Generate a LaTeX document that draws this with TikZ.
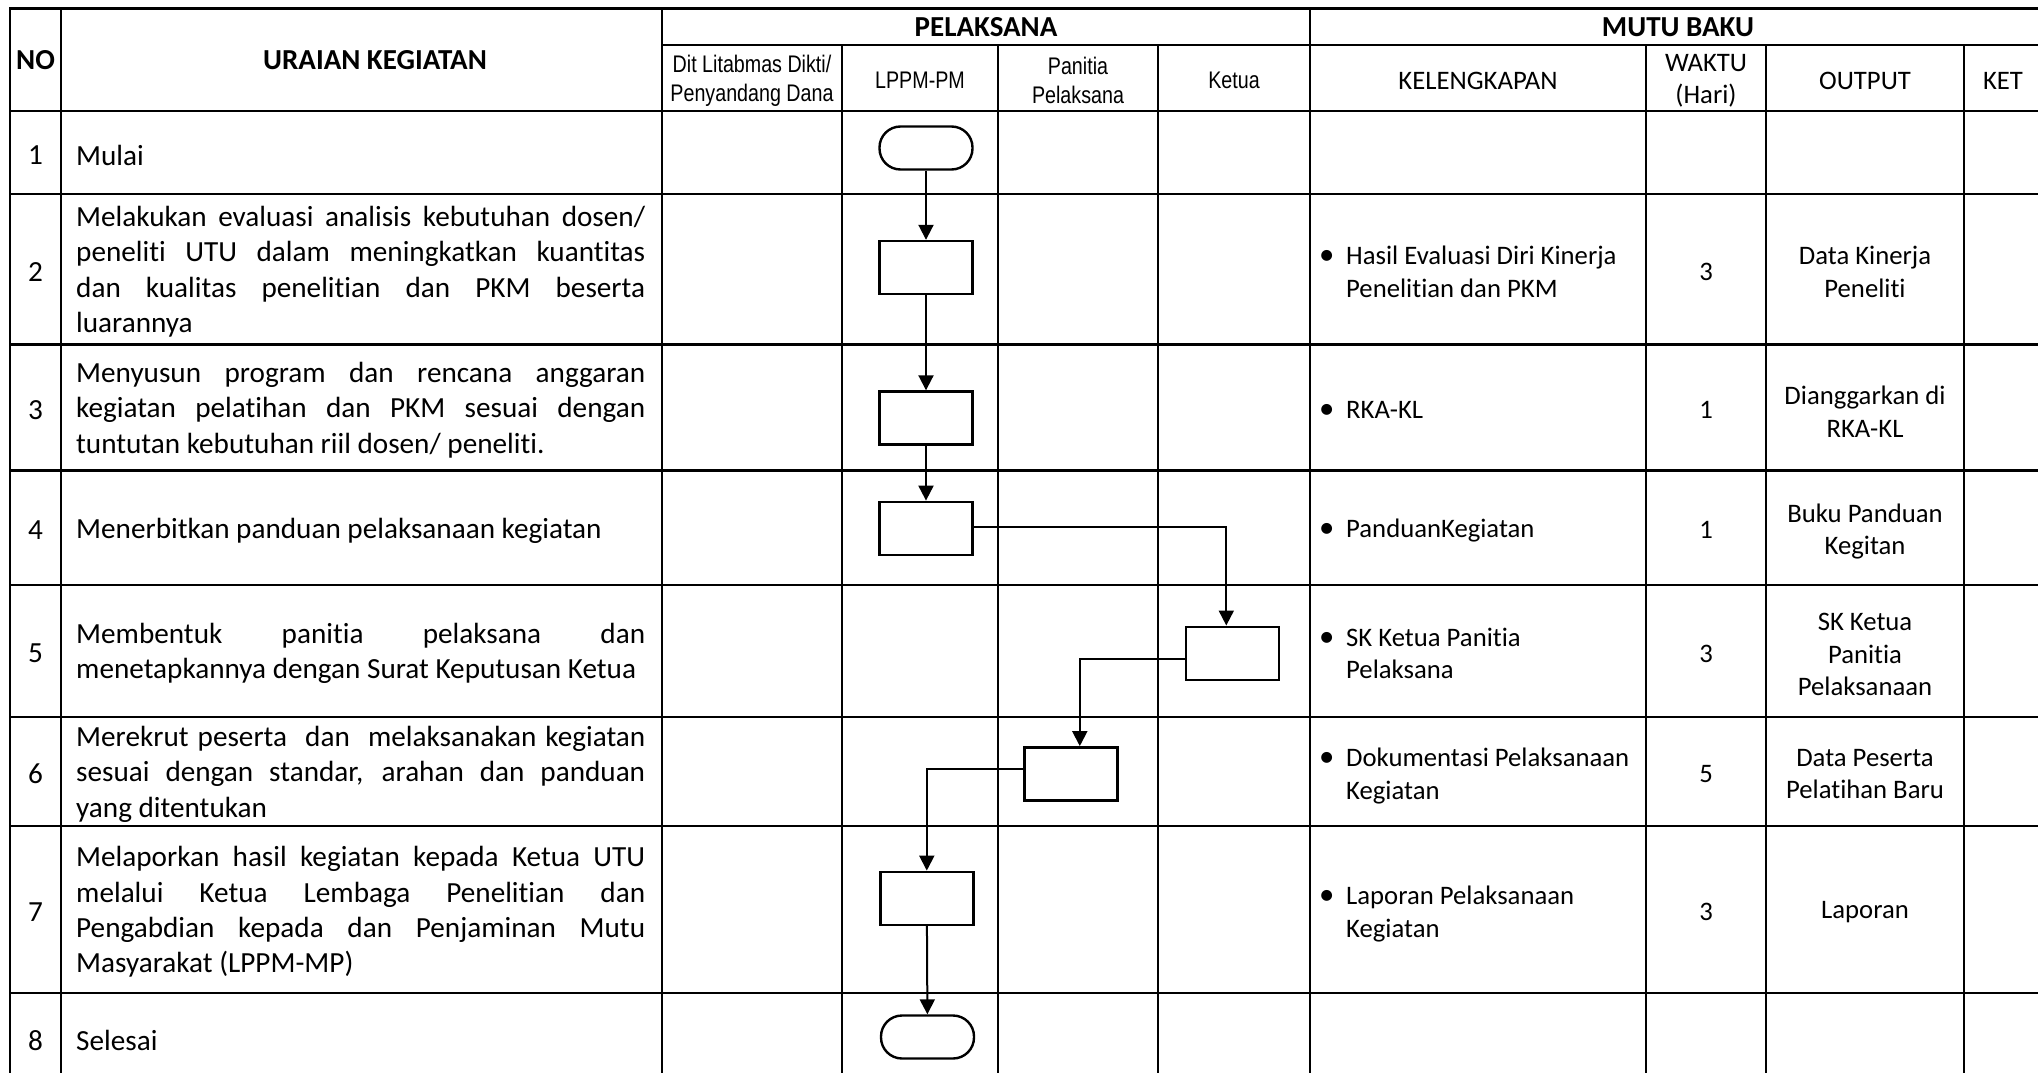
\documentclass[tikz,border=0pt]{standalone}
\usepackage{fontspec}
\setmainfont{Carlito}[Ligatures={NoCommon,NoContextual}]
\newfontfamily\narrowfont[FakeStretch=0.82]{Liberation Sans}
\usetikzlibrary{arrows.meta}
\newcommand{\jline}[1]{\makebox[569pt][s]{#1}}
\newcommand{\lline}[1]{\makebox[569pt][l]{#1}}
\newcommand{\blt}{\makebox[28pt][l]{\hspace{1pt}\scalebox{1.15}{•}}}
\begin{document}
\begin{tikzpicture}[x=1pt,y=-1pt,
  hdr/.style={font=\bfseries\fontsize{29}{35}\selectfont, inner sep=0},
  sub/.style={font=\narrowfont\fontsize{24}{28.5}\selectfont, align=center, inner sep=0, yshift=-2.6pt},
  cal/.style={font=\fontsize{26.7}{32.6}\selectfont, align=center, inner sep=0, yshift=-2.6pt},
  kel/.style={font=\fontsize{26.7}{32.6}\selectfont, anchor=west, inner sep=0, yshift=-2.6pt},
  kelt/.style={kel, yshift=-2.6pt},
  ura/.style={font=\fontsize{29.2}{35.4}\selectfont, anchor=west, inner sep=0, align=left, yshift=-2.6pt},
  num/.style={font=\fontsize{29.2}{35.4}\selectfont, inner sep=0, yshift=-2.6pt},
  fbox/.style={draw, line width=2.4pt, fill=white, minimum width=93pt, minimum height=53pt, inner sep=0},
  term/.style={fbox, rounded corners=21pt, minimum height=43pt},
  flow/.style={line width=2pt, -{Triangle[length=15pt,width=15pt]}},
  grid/.style={line width=2.4pt, line cap=rect}]
\clip (0,0) rectangle (2038,1073);
\fill[white] (0,0) rectangle (2038,1073);
% ---------- grid ----------
\draw[grid, line width=3pt] (10,9) -- (2047,9);
\draw[grid] (662,45) -- (2047,45);
\foreach \yy in {111,194,344.5,470.5,585,716.7,826,993,1083}
  \draw[grid] (10,\yy) -- (2047,\yy);
\foreach \xx in {10,61,662,1310,2047}
  \draw[grid] (\xx,9) -- (\xx,1090);
\foreach \xx in {842,998,1158,1646,1766,1964}
  \draw[grid] (\xx,45) -- (\xx,1090);
% ---------- header ----------
\node[hdr] (hno) at (35.5,60) {NO};
\node[hdr] (hur) at (375,60) {URAIAN KEGIATAN};
\node[hdr] (hpel) at (986,27) {PELAKSANA};
\node[hdr] (hmb) at (1678,27) {MUTU BAKU};
\node[sub] (hdit) at (752,78) {Dit Litabmas Dikti/\\Penyandang Dana};
\node[sub] (hlppm) at (920,78) {LPPM-PM};
\node[sub] (hpan) at (1078,78) {Panitia\\Pelaksana};
\node[sub] (hket) at (1234,78) {Ketua};
\node[cal] (hkel) at (1478,78) {KELENGKAPAN};
\node[cal] (hwak) at (1706,78) {WAKTU\\(Hari)};
\node[cal] (hout) at (1865,78) {OUTPUT};
\node[cal] (hketr) at (2003,78) {KET};
% ---------- row numbers ----------
\node[num] (n1) at (35.5,152.5) {1};
\node[num] (n2) at (35.5,269.3) {2};
\node[num] (n3) at (35.5,407.5) {3};
\node[num] (n4) at (35.5,527.8) {4};
\node[num] (n5) at (35.5,650.9) {5};
\node[num] (n6) at (35.5,771.4) {6};
\node[num] (n7) at (35.5,909.5) {7};
\node[num] (n8) at (35.5,1038) {8};
% ---------- uraian ----------
\node[ura] (u1) at (76,152.5) {Mulai};
\node[ura] (u2) at (76,269.3) {\jline{Melakukan evaluasi analisis kebutuhan dosen/}\\
  \jline{peneliti UTU dalam meningkatkan kuantitas}\\
  \jline{dan kualitas penelitian dan PKM beserta}\\
  \lline{luarannya}};
\node[ura] (u3) at (76,407.5) {\jline{Menyusun program dan rencana anggaran}\\
  \jline{kegiatan pelatihan dan PKM sesuai dengan}\\
  \lline{tuntutan kebutuhan riil dosen/ peneliti.}};
\node[ura] (u4) at (76,527.8) {Menerbitkan panduan pelaksanaan kegiatan};
\node[ura] (u5) at (76,650.9) {\jline{Membentuk panitia pelaksana dan}\\
  \lline{menetapkannya dengan Surat Keputusan Ketua}};
\node[ura] (u6) at (76,771.4) {\jline{Merekrut peserta\ \ dan\ \ melaksanakan kegiatan}\\
  \jline{sesuai dengan standar, arahan dan panduan}\\
  \lline{yang ditentukan}};
\node[ura] (u7) at (76,909.5) {\jline{Melaporkan hasil kegiatan kepada Ketua UTU}\\
  \jline{melalui Ketua Lembaga Penelitian dan}\\
  \jline{Pengabdian kepada dan Penjaminan Mutu}\\
  \lline{Masyarakat (LPPM-MP)}};
\node[ura] (u8) at (76,1038) {Selesai};
% ---------- kelengkapan ----------
\node[kelt] (k2) at (1318,269.3) {\begin{tabular}{@{}l@{}l@{}}\blt&Hasil Evaluasi Diri Kinerja\\&Penelitian dan PKM\end{tabular}};
\node[kel] (k3) at (1318,407.5) {\blt RKA-KL};
\node[kel] (k4) at (1318,527.8) {\blt PanduanKegiatan};
\node[kelt] (k5) at (1318,650.9) {\begin{tabular}{@{}l@{}l@{}}\blt&SK Ketua Panitia\\&Pelaksana\end{tabular}};
\node[kelt] (k6) at (1318,771.4) {\begin{tabular}{@{}l@{}l@{}}\blt&Dokumentasi Pelaksanaan\\&Kegiatan\end{tabular}};
\node[kelt] (k7) at (1318,909.5) {\begin{tabular}{@{}l@{}l@{}}\blt&Laporan Pelaksanaan\\&Kegiatan\end{tabular}};
% ---------- waktu ----------
\node[cal] (w2) at (1706,269.3) {3};
\node[cal] (w3) at (1706,407.5) {1};
\node[cal] (w4) at (1706,527.8) {1};
\node[cal] (w5) at (1706,650.9) {3};
\node[cal] (w6) at (1706,771.4) {5};
\node[cal] (w7) at (1706,909.5) {3};
% ---------- output ----------
\node[cal] (o2) at (1865,269.3) {Data Kinerja\\Peneliti};
\node[cal] (o3) at (1865,409) {Dianggarkan di\\RKA-KL};
\node[cal] (o4) at (1865,529) {Buku Panduan\\Kegitan};
\node[cal] (o5) at (1865,652) {SK Ketua\\Panitia\\Pelaksanaan};
\node[cal] (o6) at (1865,771.4) {Data Peserta\\Pelatihan Baru};
\node[cal] (o7) at (1865,909.5) {Laporan};
% ---------- flowchart ----------
\node[term] (t1) at (926,148) {};
\node[fbox] (b2) at (926,267.5) {};
\node[fbox] (b3) at (926,418) {};
\node[fbox] (b4) at (926,528.3) {};
\node[fbox] (b5) at (1232.3,653.2) {};
\node[fbox] (b6) at (1070.8,773.8) {};
\node[fbox] (b7) at (926.8,898.3) {};
\node[term] (t8) at (927.5,1037) {};
\draw[flow] (t1) -- (b2);
\draw[flow] (b2) -- (b3);
\draw[flow] (b3) -- (b4);
\draw[flow] ([yshift=1.5pt]b4.east) -| ([xshift=-6pt]b5.north);
\draw[flow] ([yshift=-6pt]b5.west) -| ([xshift=9pt]b6.north);
\draw[flow] ([yshift=4.5pt]b6.west) -| (b7.north);
\draw[flow] (b7) -- (t8);
\end{tikzpicture}
\end{document}
